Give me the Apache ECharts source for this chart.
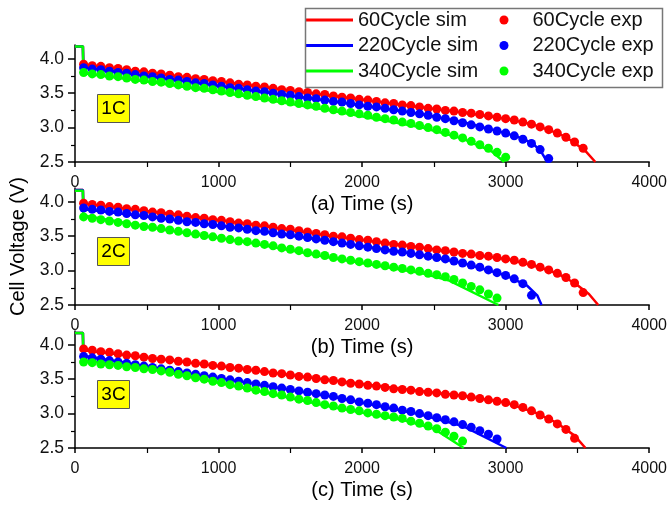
<!DOCTYPE html>
<html>
<head>
<meta charset="utf-8">
<script src="https://cdn.jsdelivr.net/npm/echarts@6.0.0/dist/echarts.min.js"></script>
<style>
  html, body { margin: 0; padding: 0; background: #fff; }
  #main { width: 670px; height: 507px; }
</style>
</head>
<body>
<div id="main"></div>
<script>
// experiment sampling times (s)
var expTime = [60,120,180,240,300,360,420,480,540,600,
  660,720,780,840,900,960,1020,1080,1140,1200,
  1260,1320,1380,1440,1500,1560,1620,1680,1740,1800,
  1860,1920,1980,2040,2100,2160,2220,2280,2340,2400,
  2460,2520,2580,2640,2700,2760,2820,2880,2940,3000,
  3060,3120,3180,3240,3300,3360,3420,3480,3540];

var yTicks = [2.5, 3.0, 3.5, 4.0];
var yMinorTicks = [2.75, 3.25, 3.75];
var panelLabels = ['1C', '2C', '3C'];
var axisTitles = ['(a) Time (s)', '(b) Time (s)', '(c) Time (s)'];
var simNames = ['60Cycle sim', '220Cycle sim', '340Cycle sim'];
var expNames = ['60Cycle exp', '220Cycle exp', '340Cycle exp'];
var colors = ['#ff0000', '#0000ff', '#00ff00'];

// ---- 1C ----
var exp1cRed = [3.92,3.90,3.89,3.87,3.86,3.84,3.82,3.81,3.79,3.78,
  3.76,3.74,3.73,3.71,3.70,3.68,3.67,3.65,3.63,3.62,
  3.60,3.59,3.57,3.55,3.54,3.52,3.51,3.49,3.48,3.46,
  3.44,3.43,3.41,3.40,3.38,3.36,3.35,3.33,3.32,3.30,
  3.28,3.27,3.25,3.24,3.22,3.21,3.19,3.17,3.15,3.13,
  3.11,3.08,3.05,3.01,2.97,2.92,2.86,2.79,2.70];
var exp1cBlue = [3.87,3.85,3.84,3.82,3.80,3.79,3.77,3.75,3.74,3.72,
  3.70,3.69,3.67,3.65,3.64,3.62,3.60,3.58,3.57,3.55,
  3.53,3.52,3.50,3.48,3.47,3.45,3.43,3.42,3.40,3.38,
  3.37,3.35,3.33,3.31,3.30,3.28,3.26,3.24,3.22,3.20,
  3.18,3.15,3.13,3.10,3.07,3.04,3.01,2.98,2.95,2.92,
  2.88,2.83,2.77,2.68,2.55];
var exp1cGreen = [3.80,3.78,3.77,3.75,3.74,3.72,3.70,3.69,3.67,3.66,
  3.64,3.62,3.60,3.58,3.57,3.55,3.53,3.51,3.49,3.47,
  3.45,3.43,3.41,3.39,3.37,3.35,3.33,3.31,3.28,3.26,
  3.24,3.22,3.20,3.18,3.15,3.13,3.11,3.08,3.06,3.03,
  3.00,2.97,2.93,2.89,2.85,2.80,2.75,2.70,2.64,2.57];
var sim1cRedT = [0,55,58,300,600,1200,1800,2400,2700,3000,3200,3360,3420,3480,3560,3625];
var sim1cRedV = [4.18,4.18,3.92,3.86,3.78,3.62,3.46,3.30,3.22,3.13,3.04,2.92,2.86,2.78,2.65,2.50];
var sim1cBlueT = [0,55,58,600,1200,1800,2400,2700,3000,3120,3200,3250,3290];
var sim1cBlueV = [4.18,4.18,3.88,3.72,3.55,3.38,3.20,3.08,2.92,2.84,2.75,2.64,2.50];
var sim1cGreenT = [0,55,58,600,1200,1800,2400,2700,2900,2990];
var sim1cGreenV = [4.18,4.18,3.79,3.64,3.45,3.24,3.01,2.84,2.66,2.50];

// ---- 2C ----
var exp2cRed = [3.98,3.96,3.95,3.93,3.92,3.90,3.89,3.87,3.85,3.84,
  3.82,3.81,3.79,3.77,3.76,3.74,3.73,3.71,3.69,3.68,
  3.66,3.65,3.63,3.61,3.60,3.58,3.56,3.54,3.52,3.50,
  3.49,3.47,3.45,3.44,3.42,3.40,3.38,3.37,3.35,3.34,
  3.32,3.30,3.29,3.27,3.25,3.24,3.22,3.21,3.19,3.17,
  3.15,3.12,3.09,3.05,3.01,2.96,2.90,2.82,2.68];
var exp2cBlue = [3.91,3.89,3.88,3.86,3.85,3.83,3.81,3.80,3.78,3.76,
  3.75,3.73,3.71,3.70,3.68,3.67,3.65,3.63,3.62,3.60,
  3.58,3.57,3.55,3.53,3.52,3.50,3.48,3.46,3.44,3.42,
  3.40,3.38,3.36,3.34,3.32,3.30,3.28,3.27,3.25,3.23,
  3.21,3.19,3.17,3.14,3.11,3.08,3.05,3.01,2.97,2.93,
  2.88,2.81,2.64];
var exp2cGreen = [3.78,3.76,3.74,3.72,3.70,3.68,3.66,3.64,3.63,3.61,
  3.59,3.57,3.55,3.53,3.51,3.49,3.47,3.45,3.43,3.42,
  3.40,3.38,3.36,3.33,3.31,3.29,3.26,3.24,3.22,3.19,
  3.17,3.15,3.13,3.11,3.09,3.07,3.05,3.03,3.01,2.99,
  2.96,2.94,2.91,2.87,2.82,2.77,2.72,2.66,2.60];
var sim2cRedT = [0,55,58,600,1200,1800,2400,2700,3000,3200,3360,3480,3580,3645];
var sim2cRedV = [4.17,4.17,3.97,3.84,3.68,3.50,3.34,3.25,3.17,3.07,2.96,2.82,2.66,2.50];
var sim2cBlueT = [0,55,58,600,1200,1800,2400,2700,3000,3150,3220,3250];
var sim2cBlueV = [4.17,4.17,3.89,3.76,3.60,3.42,3.23,3.11,2.93,2.78,2.64,2.50];
var sim2cGreenT = [0,55,58,600,1200,1800,2400,2600,2950];
var sim2cGreenV = [4.16,4.16,3.80,3.60,3.41,3.18,2.97,2.86,2.50];

// ---- 3C ----
var exp3cRed = [3.94,3.92,3.90,3.89,3.87,3.85,3.84,3.82,3.80,3.79,
  3.78,3.76,3.75,3.73,3.72,3.70,3.69,3.67,3.66,3.64,
  3.63,3.61,3.59,3.58,3.56,3.54,3.53,3.51,3.49,3.48,
  3.46,3.44,3.43,3.41,3.40,3.38,3.36,3.35,3.34,3.32,
  3.31,3.30,3.28,3.27,3.26,3.24,3.22,3.20,3.18,3.16,
  3.13,3.09,3.04,2.98,2.92,2.85,2.77,2.64];
var exp3cBlue = [3.83,3.81,3.79,3.77,3.75,3.73,3.71,3.69,3.67,3.65,
  3.63,3.61,3.59,3.57,3.55,3.53,3.51,3.49,3.47,3.45,
  3.43,3.41,3.39,3.37,3.35,3.33,3.31,3.29,3.27,3.25,
  3.22,3.20,3.17,3.15,3.13,3.10,3.08,3.05,3.03,3.00,
  2.97,2.94,2.91,2.88,2.84,2.80,2.75,2.70,2.63];
var exp3cGreen = [3.75,3.74,3.72,3.71,3.70,3.68,3.67,3.65,3.64,3.62,
  3.60,3.57,3.55,3.52,3.50,3.47,3.45,3.42,3.40,3.37,
  3.34,3.32,3.29,3.27,3.24,3.21,3.19,3.16,3.13,3.11,
  3.08,3.06,3.04,3.01,2.99,2.97,2.95,2.93,2.89,2.86,
  2.82,2.78,2.73,2.67,2.60];
var sim3cRedT = [0,55,58,600,1200,1800,2400,2700,3000,3200,3360,3480,3556];
var sim3cRedV = [4.17,4.17,3.92,3.79,3.64,3.48,3.33,3.26,3.16,3.02,2.86,2.68,2.50];
var sim3cBlueT = [0,55,58,600,1200,1800,2400,2700,3005];
var sim3cBlueV = [4.17,4.17,3.84,3.65,3.45,3.24,2.99,2.82,2.50];
var sim3cGreenT = [0,55,58,600,1200,1800,2300,2500,2708];
var sim3cGreenV = [4.17,4.17,3.78,3.62,3.36,3.09,2.90,2.78,2.50];

var panels = [
  { sim: [[sim1cRedT, sim1cRedV], [sim1cBlueT, sim1cBlueV], [sim1cGreenT, sim1cGreenV]],
    exp: [exp1cRed, exp1cBlue, exp1cGreen] },
  { sim: [[sim2cRedT, sim2cRedV], [sim2cBlueT, sim2cBlueV], [sim2cGreenT, sim2cGreenV]],
    exp: [exp2cRed, exp2cBlue, exp2cGreen] },
  { sim: [[sim3cRedT, sim3cRedV], [sim3cBlueT, sim3cBlueV], [sim3cGreenT, sim3cGreenV]],
    exp: [exp3cRed, exp3cBlue, exp3cGreen] }
];

function pairs(t, v) {
  return v.map(function (y, i) { return [t[i], y]; });
}

var font = 'Arial, "Liberation Sans", sans-serif';
var gridTops = [45, 188, 331];
var gridH = 117;

var grids = [], xAxes = [], yAxes = [], series = [], graphics = [];

gridTops.forEach(function (top, g) {
  grids.push({ left: 75, right: 19, top: top, height: gridH });
  xAxes.push({
    type: 'value', gridIndex: g, min: 0, max: 4000, interval: 1000,
    name: axisTitles[g], nameLocation: 'middle', nameGap: 32,
    nameTextStyle: { fontSize: 20, color: '#000', fontFamily: font },
    axisLine: { onZero: false, lineStyle: { color: '#000', width: 1.5 } },
    axisTick: { inside: false, length: 5, lineStyle: { color: '#000', width: 1.5 } },
    minorTick: { show: true, splitNumber: 2, length: 5, lineStyle: { color: '#000', width: 1.2 } },
    axisLabel: { fontSize: 16, color: '#111', fontFamily: font, margin: 13,
      formatter: function (v) { return String(v); } },
    splitLine: { show: false }
  });
  yAxes.push({
    type: 'value', gridIndex: g, min: 2.5, max: 4.2,
    name: g === 1 ? 'Cell Voltage (V)' : '',
    nameLocation: 'middle', nameGap: 47,
    nameTextStyle: { fontSize: 20, color: '#000', fontFamily: font },
    axisLine: { show: true, onZero: false, lineStyle: { color: '#000', width: 1.5 } },
    axisTick: { customValues: yTicks, length: 7, lineStyle: { color: '#000', width: 1.5 } },
    axisLabel: { customValues: yTicks, fontSize: 17.5, color: '#111', fontFamily: font, margin: 11,
      formatter: function (v) { return v.toFixed(1); } },
    splitLine: { show: false }
  });
  // minor y ticks
  yAxes.push({
    type: 'value', gridIndex: g, min: 2.5, max: 4.2, position: 'left',
    axisLine: { show: false },
    axisTick: { show: true, customValues: yMinorTicks, length: 4, lineStyle: { color: '#000', width: 1.2 } },
    axisLabel: { show: false },
    splitLine: { show: false }
  });

  var p = panels[g];
  p.sim.forEach(function (s, k) {
    series.push({
      name: simNames[k], type: 'line', xAxisIndex: g, yAxisIndex: g * 2,
      data: pairs(s[0], s[1]), showSymbol: false, symbol: 'none',
      lineStyle: { color: colors[k], width: 2.5 }, itemStyle: { color: colors[k] },
      animation: false, z: 2
    });
  });
  p.exp.forEach(function (v, k) {
    series.push({
      name: expNames[k], type: 'scatter', xAxisIndex: g, yAxisIndex: g * 2,
      data: pairs(expTime, v), symbol: 'circle', symbolSize: 9,
      itemStyle: { color: colors[k], opacity: 1 },
      animation: false, z: 3
    });
  });

  graphics.push({
    type: 'group', left: 97, top: top + 49,
    children: [
      { type: 'rect', shape: { x: 0, y: 0, width: 32, height: 28 },
        style: { fill: '#ffff00', stroke: '#555', lineWidth: 1 } },
      { type: 'text', x: 16, y: 14,
        style: { text: panelLabels[g], font: '19px ' + font, fill: '#000',
          align: 'center', verticalAlign: 'middle' } }
    ]
  });
});

graphics.push({
  type: 'rect', left: 303, top: 6,
  shape: { x: 0, y: 0, width: 357, height: 79 },
  style: { fill: 'none', stroke: '#777', lineWidth: 1.5 }, z: 10
});

var option = {
  backgroundColor: '#ffffff',
  animation: false,
  grid: grids,
  xAxis: xAxes,
  yAxis: yAxes,
  legend: [
    {
      orient: 'vertical', left: 305, top: 10, padding: 0, itemWidth: 48, itemHeight: 3,
      itemGap: 5.5, selectedMode: false,
      textStyle: { fontSize: 20, color: '#111', fontFamily: font, lineHeight: 20 },
      data: simNames.map(function (n) { return { name: n, icon: 'rect' }; })
    },
    {
      orient: 'vertical', left: 499.5, top: 10, padding: 0, itemWidth: 9, itemHeight: 9,
      itemGap: 5.5, selectedMode: false,
      formatter: function (name) { return '{t|' + name + '}'; },
      textStyle: { fontSize: 20, color: '#111', fontFamily: font, lineHeight: 20,
        rich: { t: { fontSize: 20, color: '#111', fontFamily: font, lineHeight: 20, padding: [0, 0, 0, 19] } } },
      data: expNames.map(function (n) { return { name: n, icon: 'circle' }; })
    }
  ],
  graphic: graphics,
  series: series
};

var myChart = echarts.init(document.getElementById('main'), null, { renderer: 'canvas' });
myChart.setOption(option);
window.addEventListener('resize', myChart.resize);
</script>
</body>
</html>
